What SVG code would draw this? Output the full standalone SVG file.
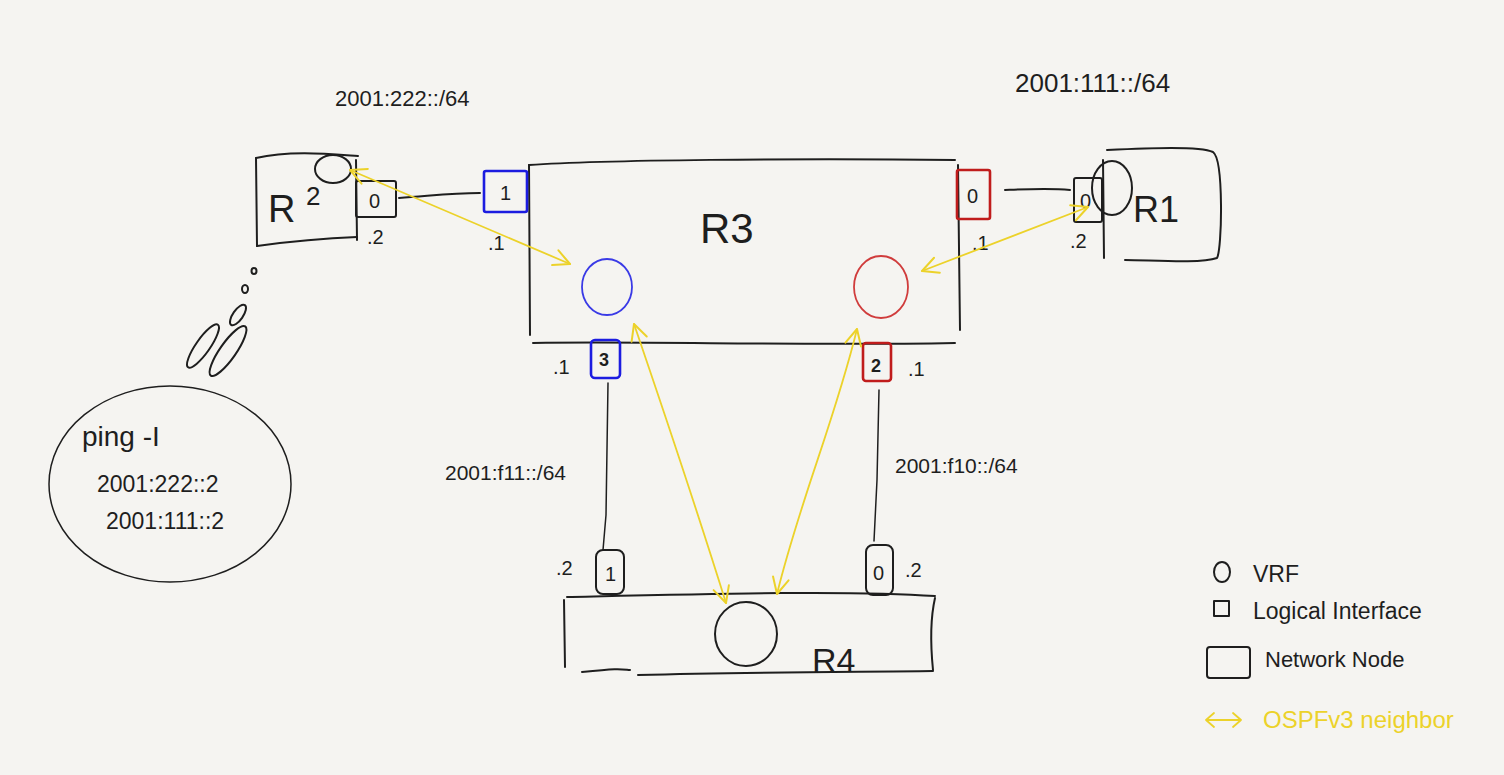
<svg xmlns="http://www.w3.org/2000/svg" width="1504" height="775" viewBox="0 0 1504 775">
<defs>
<style>
.ln{fill:none;stroke:#1e1e1e;stroke-width:2;stroke-linecap:round;stroke-linejoin:round}
.thin{fill:none;stroke:#1e1e1e;stroke-width:1.5;stroke-linecap:round}
.blue{fill:none;stroke:#1c1ce0;stroke-width:2.6;stroke-linejoin:round}
.red{fill:none;stroke:#c01c1c;stroke-width:2.6;stroke-linejoin:round}
.vb{fill:none;stroke:#3a3ae6;stroke-width:1.8}
.vr{fill:none;stroke:#d03c3c;stroke-width:1.8}
.y{fill:none;stroke:#ecd22a;stroke-width:1.8;stroke-linecap:round;stroke-linejoin:round}
.t{font-family:"Liberation Sans",Arial,sans-serif;fill:#1e1e1e}
.small{font-size:20px}
.yt{font-family:"Liberation Sans",Arial,sans-serif;fill:#ecd22a;font-size:24px}
</style>
<marker id="ah" viewBox="0 0 20 20" refX="18" refY="10" markerWidth="20" markerHeight="20" markerUnits="userSpaceOnUse" orient="auto-start-reverse">
<path d="M2,2 L18,10 L2,18" fill="none" stroke="#ecd22a" stroke-width="2" stroke-linecap="round" stroke-linejoin="round"/>
</marker>
</defs>
<rect width="1504" height="775" fill="#f5f4f1"/>

<g id="R3">
<path class="ln" d="M529,165 C600,160 800,158 955,160"/>
<path class="ln" d="M529,165 L530,335"/>
<path class="ln" d="M533,343 C650,341 800,346 955,343"/>
<path class="ln" d="M958,165 L960,330"/>
<text class="t" x="700" y="243" font-size="42">R3</text>
<ellipse class="vb" cx="607" cy="287" rx="25" ry="28"/>
<ellipse class="vr" cx="881" cy="287" rx="27" ry="31"/>
</g>

<g id="R3-if1">
<rect class="blue" x="484" y="171" width="43" height="41" rx="2"/>
<text class="t small" x="500" y="200">1</text>
<text class="t small" x="488" y="250">.1</text>
</g>
<g id="R3-if0">
<rect class="red" x="957" y="170" width="33" height="49" rx="2"/>
<text class="t small" x="967" y="203">0</text>
<text class="t small" x="972" y="250">.1</text>
</g>
<g id="R3-if3">
<rect class="blue" x="591" y="340" width="29" height="38" rx="4"/>
<text class="t" font-size="18" font-weight="bold" x="599" y="366">3</text>
<text class="t small" x="553" y="374">.1</text>
</g>
<g id="R3-if2">
<rect class="red" x="863" y="343" width="28" height="38" rx="3"/>
<text class="t" font-size="18" font-weight="bold" x="871" y="372">2</text>
<text class="t small" x="908" y="376">.1</text>
</g>

<g id="R2">
<path class="ln" d="M256,158 C290,150 330,154 358,156"/>
<path class="ln" d="M256,158 L257,246"/>
<path class="ln" d="M257,246 C300,240 330,238 357,237"/>
<path class="ln" d="M356,160 L357,240"/>
<text class="t" x="268" y="222" font-size="38">R</text>
<text class="t" x="306" y="205" font-size="26">2</text>
<ellipse class="ln" cx="333" cy="169" rx="18" ry="14"/>
<rect class="ln" x="356" y="181" width="40" height="36" rx="2"/>
<text class="t small" x="369" y="208">0</text>
<text class="t small" x="367" y="244">.2</text>
<text class="t" x="335" y="106" font-size="22">2001:222::/64</text>
</g>

<g id="R1">
<path class="ln" d="M1107,150 C1150,148 1200,146 1213,152 C1224,160 1222,250 1217,258 C1200,264 1150,260 1125,260"/>
<path class="ln" d="M1103,160 L1104,258"/>
<ellipse class="ln" cx="1112" cy="188" rx="20" ry="27"/>
<text class="t" x="1133" y="222" font-size="36">R1</text>
<rect class="ln" x="1074" y="178" width="28" height="44" rx="2"/>
<text class="t small" x="1080" y="208">0</text>
<text class="t small" x="1070" y="248">.2</text>
<text class="t" x="1015" y="92" font-size="26">2001:111::/64</text>
</g>

<g id="R4">
<path class="ln" d="M567,597 C700,594 850,590 935,596"/>
<path class="ln" d="M564,600 L565,667"/>
<path class="ln" d="M582,672 C620,668 620,669 630,670 M638,675 C750,672 850,672 933,671"/>
<path class="ln" d="M935,598 C930,620 931,650 933,670"/>
<ellipse class="ln" cx="746" cy="634" rx="31" ry="32"/>
<text class="t" x="812" y="672" font-size="34">R4</text>
</g>
<g id="R4-if1">
<rect class="ln" x="596" y="550" width="28" height="44" rx="7"/>
<text class="t small" x="605" y="581">1</text>
<text class="t small" x="556" y="575">.2</text>
</g>
<g id="R4-if0">
<rect class="ln" x="866" y="545" width="27" height="50" rx="7"/>
<text class="t small" x="873" y="580">0</text>
<text class="t small" x="905" y="577">.2</text>
</g>

<g id="ping">
<ellipse class="thin" cx="170" cy="484" rx="121" ry="98"/>
<text class="t" x="82" y="446" font-size="28">ping  -I</text>
<text class="t" x="97" y="492" font-size="23">2001:222::2</text>
<text class="t" x="106" y="529" font-size="23">2001:111::2</text>
<ellipse class="ln" cx="203" cy="346" rx="7" ry="26" transform="rotate(35 203 346)"/>
<ellipse class="ln" cx="228" cy="351" rx="8" ry="30" transform="rotate(35 228 351)"/>
<ellipse class="ln" cx="238" cy="315" rx="5" ry="12" transform="rotate(35 238 315)"/>
<ellipse class="ln" cx="245" cy="289" rx="3" ry="4"/>
<ellipse class="ln" cx="254" cy="271" rx="2.5" ry="3"/>
</g>

<g id="connectors">
<path class="ln" d="M399,198 C430,196 450,193 480,193"/>
<path class="ln" d="M1005,190 C1030,189 1050,188 1070,190"/>
<path class="thin" d="M608,383 L606,515 L603,550"/>
<path class="thin" d="M879,390 L877,480 L874,541"/>
<path class="y" d="M350,170 L570,264" marker-start="url(#ah)" marker-end="url(#ah)"/>
<path class="y" d="M1088,207 L922,271" marker-start="url(#ah)" marker-end="url(#ah)"/>
<path class="y" d="M634,324 C660,400 700,520 726,603" marker-start="url(#ah)" marker-end="url(#ah)"/>
<path class="y" d="M857,329 C835,420 800,500 777,594" marker-start="url(#ah)" marker-end="url(#ah)"/>
<text class="t" x="445" y="480" font-size="21">2001:f11::/64</text>
<text class="t" x="895" y="473" font-size="21">2001:f10::/64</text>
</g>

<g id="legend">
<ellipse class="ln" cx="1222" cy="572" rx="8" ry="10"/>
<text class="t" x="1253" y="582" font-size="23">VRF</text>
<rect class="ln" x="1214" y="601" width="15" height="15"/>
<text class="t" x="1253" y="619" font-size="23">Logical  Interface</text>
<rect class="ln" x="1207" y="647" width="43" height="31" rx="3"/>
<text class="t" x="1265" y="667" font-size="22">Network Node</text>
<path class="y" d="M1206,720 L1241,720 M1214,713 L1206,720 L1214,727 M1233,713 L1241,720 L1233,727"/>
<text class="yt" x="1263" y="728">OSPFv3 neighbor</text>
</g>
</svg>
